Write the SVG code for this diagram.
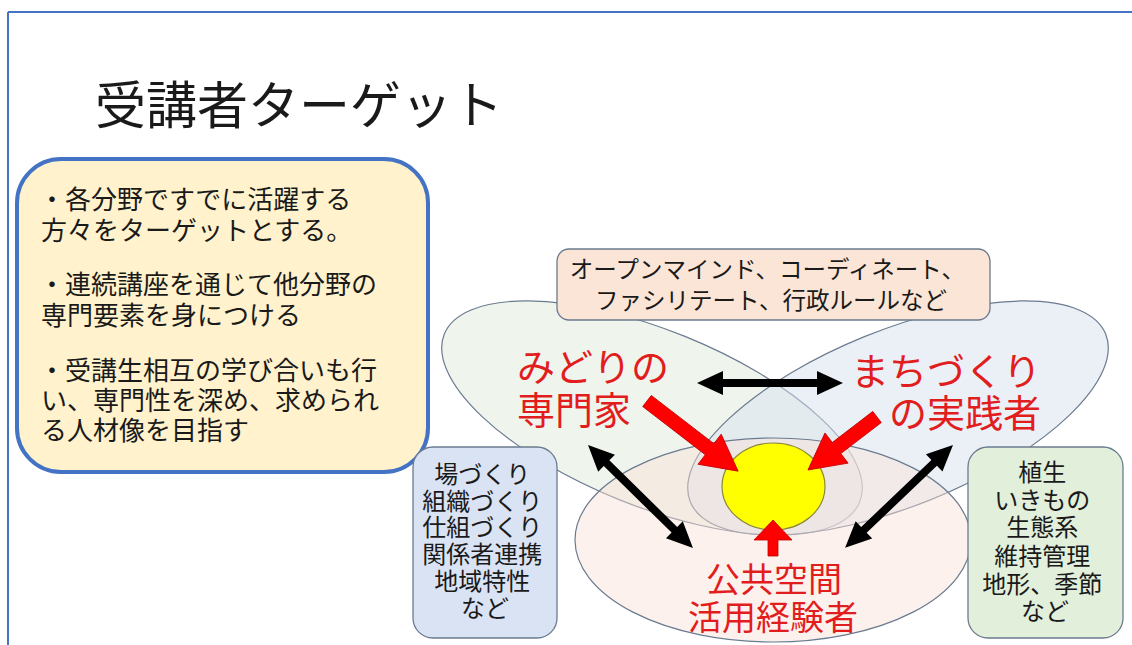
<svg xmlns="http://www.w3.org/2000/svg" width="1132" height="645" viewBox="0 0 1132 645">
<style>
text{font-family:"Noto Sans CJK JP","Noto Sans CJK SC",sans-serif;}
.blk{fill:#1a1a1a;}
.red{fill:#e21d1d;}
.petal{stroke:#6b7b8f;stroke-width:1.2;}
.box{stroke:#6b7b8f;stroke-width:1.3;}
.barrow{fill:#000;}
.rarrow{fill:#ff0000;stroke:#c00000;stroke-width:0.8;}
</style>
<rect x="0" y="0" width="1132" height="645" fill="#ffffff"/>
<g id="frame" stroke="#4472c4" stroke-width="2" fill="none">
<line x1="8" y1="12" x2="1132" y2="12"/>
<line x1="8" y1="12" x2="8" y2="645"/>
</g>
<g id="title"><text x="95" y="124" font-size="51" class="blk">受講者ターゲット</text></g>
<g id="summary">
<rect x="17" y="159" width="411" height="313" rx="44" fill="#fff2cc" stroke="#4472c4" stroke-width="4"/>
<text font-size="26" class="blk">
<tspan x="39" y="209">・各分野ですでに活躍する</tspan>
<tspan x="41" y="240">方々をターゲットとする。</tspan>
<tspan x="39" y="294">・連続講座を通じて他分野の</tspan>
<tspan x="41" y="325">専門要素を身につける</tspan>
<tspan x="39" y="380">・受講生相互の学び合いも行</tspan>
<tspan x="41" y="410">い、専門性を深め、求められ</tspan>
<tspan x="41" y="440">る人材像を目指す</tspan>
</text>
</g>
<g id="petal-green"><ellipse class="petal" cx="652" cy="418" rx="224" ry="88" transform="rotate(22 652 418)" fill="#dfeadb" fill-opacity="0.5"/></g>
<g id="petal-blue"><ellipse class="petal" cx="898" cy="418" rx="224" ry="88" transform="rotate(-22 898 418)" fill="#d8e2f0" fill-opacity="0.5"/></g>
<g id="petal-pink"><ellipse class="petal" cx="773" cy="540" rx="198" ry="102" fill="#fbe0d8" fill-opacity="0.45"/></g>
<g id="core"><ellipse cx="773.5" cy="486.5" rx="51.5" ry="43.5" fill="#ffff00" stroke="#8a8a3a" stroke-width="1.2"/></g>
<g id="skills-top">
<rect class="box" x="557" y="249" width="433" height="71" rx="12" fill="#fbe5d6"/>
<text font-size="23.5" class="blk" text-anchor="middle">
<tspan x="770" y="278">オープンマインド、コーディネート、</tspan>
<tspan x="771" y="309">ファシリテート、行政ルールなど</tspan>
</text>
</g>
<g id="skills-left">
<rect class="box" x="413" y="447" width="144" height="191" rx="20" fill="#dae3f3"/>
<text font-size="24" class="blk" text-anchor="middle">
<tspan x="485" y="483">場づくり</tspan>
<tspan x="485" y="510">組織づくり</tspan>
<tspan x="485" y="536">仕組づくり</tspan>
<tspan x="485" y="563">関係者連携</tspan>
<tspan x="485" y="590">地域特性</tspan>
<tspan x="485" y="617">など</tspan>
</text>
</g>
<g id="skills-right">
<rect class="box" x="968" y="447" width="155" height="191" rx="20" fill="#e2efda"/>
<text font-size="24" class="blk" text-anchor="middle">
<tspan x="1045" y="481">植生</tspan>
<tspan x="1045" y="509">いきもの</tspan>
<tspan x="1045" y="536">生態系</tspan>
<tspan x="1045" y="565">維持管理</tspan>
<tspan x="1045" y="593">地形、季節</tspan>
<tspan x="1045" y="620">など</tspan>
</text>
</g>
<g id="label-green"><text font-size="38" class="red"><tspan x="517" y="381">みどりの</tspan><tspan x="517" y="424">専門家</tspan></text></g>
<g id="label-blue"><text font-size="38" class="red" text-anchor="end"><tspan x="1041" y="385">まちづくり</tspan><tspan x="1041" y="427">の実践者</tspan></text></g>
<g id="label-pink"><text font-size="34" class="red" text-anchor="middle"><tspan x="774" y="592">公共空間</tspan><tspan x="773" y="630">活用経験者</tspan></text></g>
<g id="connectors">
<polygon class="barrow" points="697,383 723,371 723,379 817,379 817,371 843,383 817,395 817,387 723,387 723,395"/>
<polygon class="barrow" transform="translate(588 445) rotate(44.45)" points="0,0 26,-12 26,-4 121,-4 121,-12 147,0 121,12 121,4 26,4 26,12"/>
<polygon class="barrow" transform="translate(953 445) rotate(136.4)" points="0,0 26,-12 26,-4 123,-4 123,-12 149,0 123,12 123,4 26,4 26,12"/>
<polygon class="rarrow" transform="translate(647 401) rotate(37.6)" points="0,-7 79,-7 79,-19 115,0 79,19 79,7 0,7"/>
<polygon class="rarrow" transform="translate(877 417) rotate(142.5)" points="0,-7 51,-7 51,-19 87,0 51,19 51,7 0,7"/>
<polygon class="rarrow" points="773,520 792,540 778,540 778,556 768,556 768,540 754,540"/>
</g>
</svg>
